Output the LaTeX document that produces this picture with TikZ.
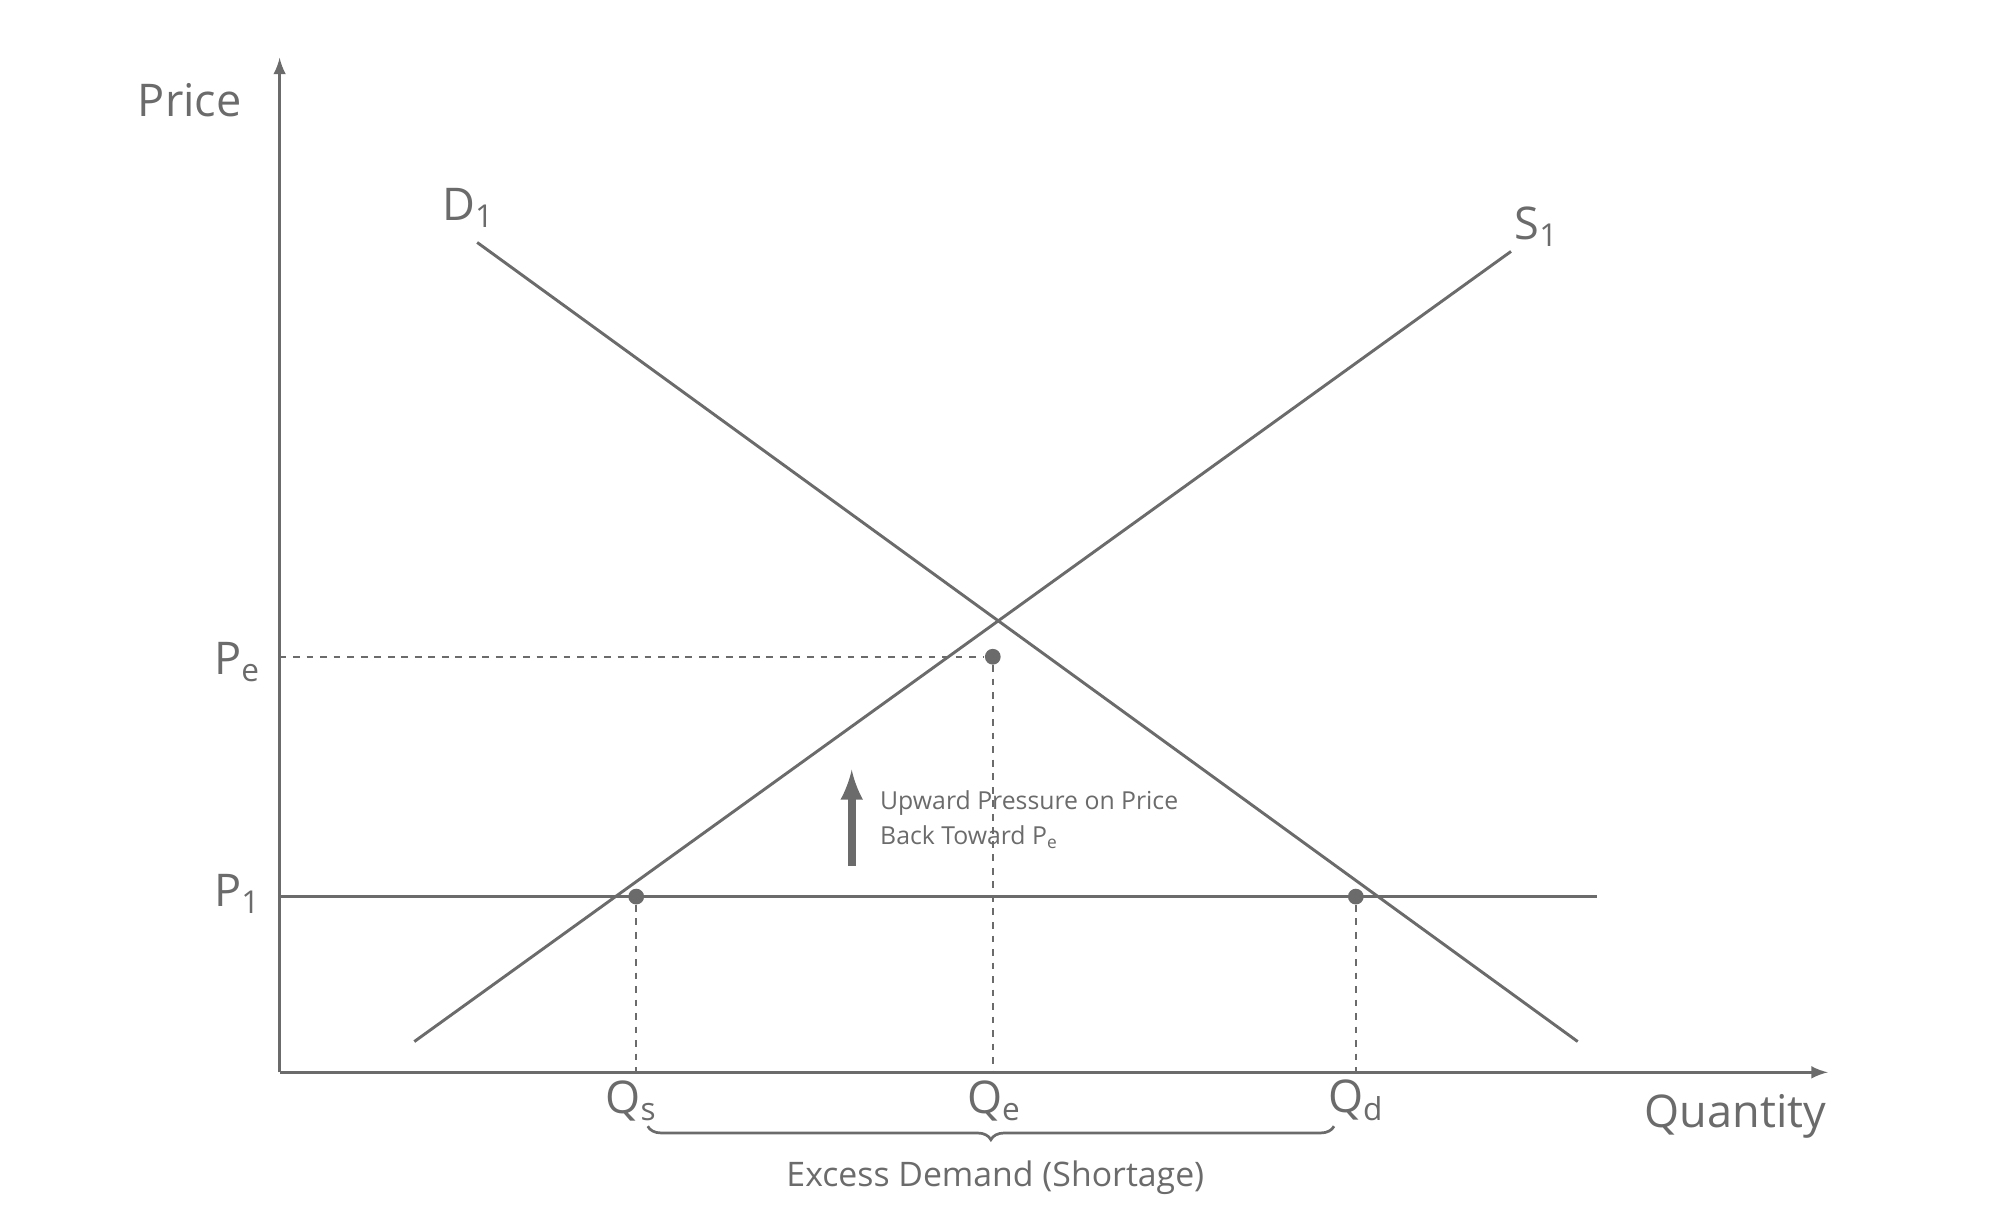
\documentclass[tikz,border=0pt]{standalone}
\usepackage{fontspec}
\setmainfont{Open Sans}
\usetikzlibrary{decorations.pathreplacing}
\definecolor{ink}{HTML}{6B6B6B}
\tikzset{>=latex,
  curve/.style={ink, line width=1.3pt},
  guide/.style={ink, dashed, line width=0.8pt},
  dot/.style={circle, fill=ink, inner sep=0pt, minimum size=7pt},
  lab/.style={ink, font=\fontsize{20}{24}\selectfont}}
\begin{document}
\begin{tikzpicture}[x=0.02cm, y=-0.02cm]
\useasboundingbox (0,0) rectangle (1560,948);
% axes
\coordinate (O) at (218,836);
\coordinate (ytop) at (218,45);
\coordinate (xend) at (1425,836);
\draw[->, ink, line width=1.5pt] (O) -- (ytop);
\draw[->, ink, line width=1.5pt] (O) -- (xend);
\node[lab] (price) at (148,78) {Price};
\node[lab] (qty) at (1353,870) {Quantity};
% curves
\coordinate (d0) at (372,189);
\coordinate (d1) at (1230,812);
\coordinate (s0) at (323,812);
\coordinate (s1) at (1178,196);
\draw[curve] (d0) -- (d1);
\draw[curve] (s0) -- (s1);
\node[lab] (dlab) at (365,162) {D\textsubscript{1}};
\node[lab] (slab) at (1198,177) {S\textsubscript{1}};
% points
\node[dot] (E) at (774,512) {};
\node[dot] (A) at (496,699) {};
\node[dot] (B) at (1057,699) {};
\coordinate (peY) at (218,512);
\coordinate (p1Y) at (218,699);
\coordinate (p1end) at (1245,699);
\coordinate (qsX) at (496,836);
\coordinate (qeX) at (774,836);
\coordinate (qdX) at (1057,836);
\draw[guide] (peY) -- (E);
\draw[guide] (E) -- (qeX);
\draw[guide] (A) -- (qsX);
\draw[guide] (B) -- (qdX);
\draw[curve] (p1Y) -- (p1end);
\node[lab] (pe) at (185,516) {P\textsubscript{e}};
\node[lab] (p1) at (185,697) {P\textsubscript{1}};
\node[lab] (qs) at (492,858) {Q\textsubscript{s}};
\node[lab] (qe) at (775,858) {Q\textsubscript{e}};
\node[lab] (qd) at (1057,858) {Q\textsubscript{d}};
% pressure arrow
\coordinate (ar0) at (664,675);
\coordinate (ar1) at (664,600);
\draw[->, ink, line width=3.5pt] (ar0) -- (ar1);
\node[ink, anchor=west, align=left, font=\fontsize{11}{15.5}\selectfont] (note) at (680,639)
  {Upward Pressure on Price\\Back Toward P\textsubscript{e}};
% shortage brace
\coordinate (b0) at (505,878);
\coordinate (b1) at (1040,878);
\draw[ink, line width=1.2pt, decorate, decoration={brace, mirror, amplitude=6pt}] (b0) -- (b1);
\node[ink, font=\fontsize{15}{18}\selectfont] (short) at (776,918) {Excess Demand (Shortage)};
\end{tikzpicture}
\end{document}
